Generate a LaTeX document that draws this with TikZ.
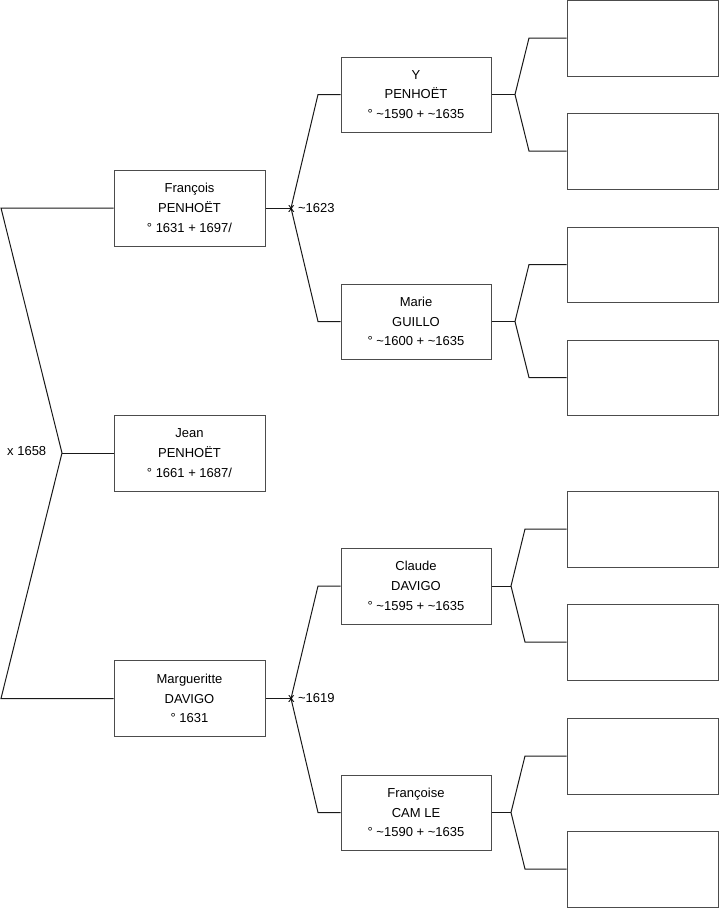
\documentclass[tikz,border=0pt]{standalone}
\usepackage{fontspec}
\setmainfont{Liberation Sans}
\begin{document}
\begin{tikzpicture}[x=1pt,y=-1pt,
  pbox/.style={draw=black!70, line width=1pt, fill=white, minimum width=151pt, minimum height=76pt, inner sep=0pt, align=center, font=\fontsize{13}{19.7}\selectfont},
  ebox/.style={pbox},
  conn/.style={draw=black!90, line width=1pt},
  lab/.style={anchor=west, inner sep=0pt, font=\fontsize{13}{15}\selectfont}]
\useasboundingbox (0,0) rectangle (719,908);
% generation 1-2
\node[pbox] (F) at (189.5,208) {François\\PENHOËT\\° 1631 + 1697/};
\node[pbox] (J) at (189.5,453) {Jean\\PENHOËT\\° 1661 + 1687/};
\node[pbox] (M) at (189.5,698.5) {Margueritte\\DAVIGO\\° 1631};
% generation 3
\node[pbox, minimum width=150pt, minimum height=75pt] (Y) at (416,94.5) {Y\\PENHOËT\\° \textasciitilde1590 + \textasciitilde1635};
\node[pbox, minimum width=150pt, minimum height=75pt] (Ma) at (416,321.5) {Marie\\GUILLO\\° \textasciitilde1600 + \textasciitilde1635};
\node[pbox, minimum width=150pt, minimum height=76pt] (C) at (416,586) {Claude\\DAVIGO\\° \textasciitilde1595 + \textasciitilde1635};
\node[pbox, minimum width=150pt, minimum height=75pt] (Fr) at (416,812.5) {Françoise\\CAM LE\\° \textasciitilde1590 + \textasciitilde1635};
% generation 4 (empty)
\node[ebox] (R1) at (642.5,38) {};
\node[ebox] (R2) at (642.5,151) {};
\node[ebox, minimum height=75pt] (R3) at (642.5,264.5) {};
\node[ebox, minimum height=75pt] (R4) at (642.5,377.5) {};
\node[ebox] (R5) at (642.5,529) {};
\node[ebox] (R6) at (642.5,642) {};
\node[ebox] (R7) at (642.5,756) {};
\node[ebox] (R8) at (642.5,869) {};
% junction coordinates
\coordinate (a1) at (1,208);
\coordinate (jJ) at (62,453);
\coordinate (a2) at (1,698.5);
\coordinate (jF) at (291,208);
\coordinate (fY) at (318,94.5);
\coordinate (fMa) at (318,321.5);
\coordinate (jM) at (291,698.5);
\coordinate (fC) at (318,586);
\coordinate (fFr) at (318,812.5);
\coordinate (jY) at (515,94.5);
\coordinate (y1) at (529,38);
\coordinate (y2) at (529,151);
\coordinate (jMa) at (515,321.5);
\coordinate (m1) at (529,264.5);
\coordinate (m2) at (529,377.5);
\coordinate (jC) at (511,586);
\coordinate (c1) at (525,529);
\coordinate (c2) at (525,642);
\coordinate (jFr) at (511,812.5);
\coordinate (f1) at (525,756);
\coordinate (f2) at (525,869);
% connectors
\draw[conn] (F.west) -- (a1) -- (jJ) -- (a2) -- (M.west);
\draw[conn] (jJ) -- (J.west);
\draw[conn] (F.east) -- (jF);
\draw[conn] (Y.west) -- (fY) -- (jF) -- (fMa) -- (Ma.west);
\draw[conn] (M.east) -- (jM);
\draw[conn] (C.west) -- (fC) -- (jM) -- (fFr) -- (Fr.west);
\draw[conn] (Y.east) -- (jY);
\draw[conn] (R1.west) -- (y1) -- (jY) -- (y2) -- (R2.west);
\draw[conn] (Ma.east) -- (jMa);
\draw[conn] (R3.west) -- (m1) -- (jMa) -- (m2) -- (R4.west);
\draw[conn] (C.east) -- (jC);
\draw[conn] (R5.west) -- (c1) -- (jC) -- (c2) -- (R6.west);
\draw[conn] (Fr.east) -- (jFr);
\draw[conn] (R7.west) -- (f1) -- (jFr) -- (f2) -- (R8.west);
% labels
\node[lab] (l1) at (7,451.5) {x 1658};
\node[lab] (l2) at ([xshift=-3.2pt,yshift=0pt]jF) {x \textasciitilde1623};
\node[lab] (l3) at ([xshift=-3.2pt,yshift=0pt]jM) {x \textasciitilde1619};
\end{tikzpicture}
\end{document}
